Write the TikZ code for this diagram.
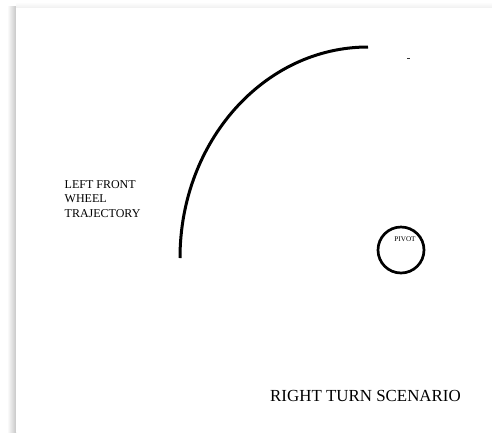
\documentclass[tikz,border=0pt]{standalone}
\usepackage{fontspec}
\setmainfont{Liberation Serif}
\begin{document}
\begin{tikzpicture}[x=1pt,y=1pt,
  curve/.style={line width=3pt,black},
  label/.style={inner sep=0pt,font=\fontsize{12}{14.3}\selectfont,align=left}]
\useasboundingbox (0,0) rectangle (492,-432);
\fill[white] (0,0) rectangle (492,-432);
% page shadow
\shade[left color=white,right color=black!22] (7,-6) rectangle (16,-432);
\shade[top color=white,bottom color=black!6] (16,-2) rectangle (492,-8);
\fill[white] (16,-8) rectangle (492,-432);
% trajectory arc
\coordinate (arcstart) at (180,-258);
\draw[curve] (arcstart) arc[start angle=180,end angle=90,x radius=188,y radius=211] coordinate (arcend);
% small mark
\fill[black!80] (407,-57.5) rectangle (409.5,-59);
% pivot
\node[circle,draw,line width=2.7pt,minimum size=46pt,inner sep=0pt] (pivot) at (401,-250) {};
\node[inner sep=0pt,font=\fontsize{7.2}{8}\selectfont] (pivottxt) at (405,-239.5) {PIVOT};
% labels
\node[label,anchor=north west] (traj) at (64.5,-180.5) {LEFT FRONT\\WHEEL\\TRAJECTORY};
\node[inner sep=0pt,anchor=west,font=\fontsize{16.9}{18}\selectfont] (title) at (270,-395.5) {RIGHT TURN SCENARIO};
\end{tikzpicture}
\end{document}
